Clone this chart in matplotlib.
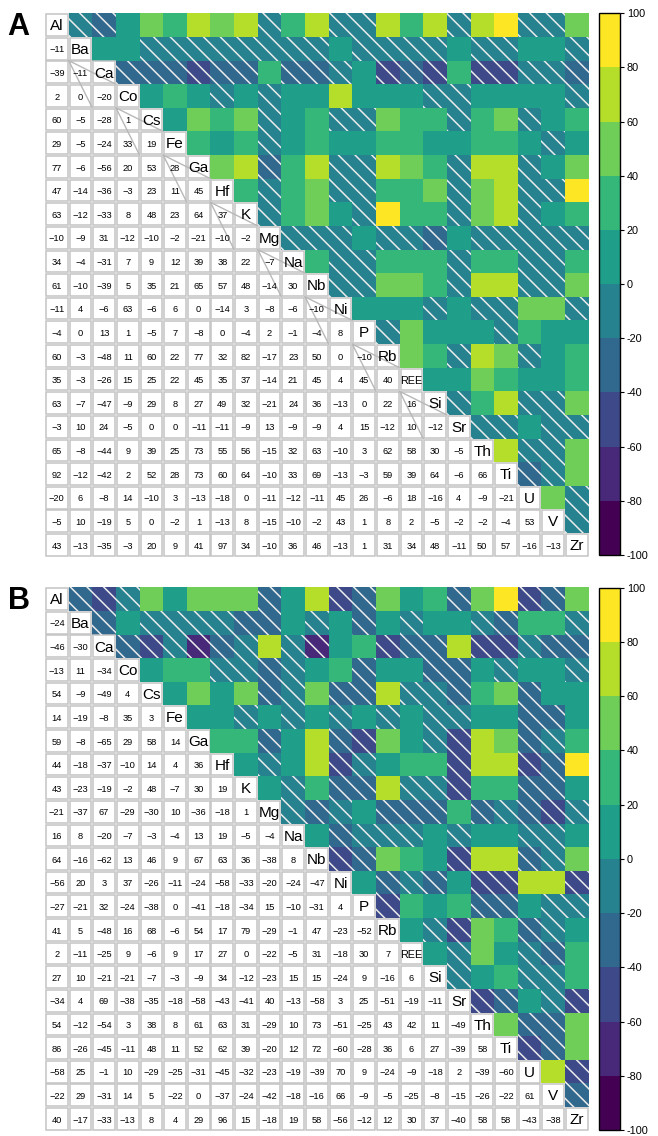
"""two correlation matrices (A and B) with numbers below the diagonal and binned colours above"""

import numpy as np
import matplotlib
matplotlib.use("Agg")
import matplotlib.pyplot as plt
from matplotlib.colors import BoundaryNorm
from matplotlib.patches import Rectangle
from matplotlib.cm import ScalarMappable

plt.rcParams["font.family"] = ["Liberation Sans", "DejaVu Sans"]

ELEMENTS = ["Al", "Ba", "Ca", "Co", "Cs", "Fe", "Ga", "Hf", "K", "Mg", "Na", "Nb",
            "Ni", "P", "Rb", "REE", "Si", "Sr", "Th", "Ti", "U", "V", "Zr"]

# correlations x100, lower triangle row by row.
# decimals are only there to put a value on the right side of a colour bin edge,
# -0.4 is a "0" that shows up as a (hatched) negative cell
CORR_A = [
    [],
    [-11],
    [-39, -11],
    [2, 0, -20.4],
    [59.6, -5, -28, 1],
    [29, -5, -24, 33, 19],
    [77, -6, -56, 19.6, 53, 28],
    [47, -14, -36, -3, 23, 11, 45],
    [63, -12, -33, 8, 48, 23, 64, 37],
    [-10, -9, 31, -12, -10, -2, -21, -10, -2],
    [34, -4, -31, 7, 9, 12, 39, 38, 22, -7],
    [61, -10, -39, 5, 35, 21, 65, 57, 48, -14, 30],
    [-11, 4, -6, 63, -6, 6, -0.4, -14, 3, -8, -6, -10],
    [-4, -0.4, 13, 1, -5, 7, -8, -0.4, -4, 2, -1, -4, 8],
    [60.4, -3, -48, 11, 59.6, 22, 77, 32, 82, -17, 23, 50, 0, -10],
    [35, -3, -26, 15, 25, 22, 45, 35, 37, -14, 21, 45, 4, 45, 40],
    [63, -7, -47, -9, 29, 8, 27, 49, 32, -21, 24, 36, -13, 0, 22, 16],
    [-3, 10, 24, -5, -0.4, 0, -11, -11, -9, 13, -9, -9, 4, 15, -12, 10, -12],
    [65, -8, -44, 9, 39, 25, 73, 55, 56, -15, 32, 63, -10, 3, 62, 58, 30, -5],
    [92, -12, -42, 2, 52, 28, 73, 60.4, 64, -10, 33, 69, -13, -3, 59, 39, 64, -6, 66],
    [-19.6, 6, -8, 14, -10, 3, -13, -18, -0.4, -11, -12, -11, 45, 26, -6, 18, -16, 4, -9, -21],
    [-5, 10, -19, 5, 0, -2, 1, -13, 8, -15, -10, -2, 43, 1, 8, 2, -5, -2, -2, -4, 53],
    [43, -13, -35, -3, 20.4, 9, 41, 97, 34, -10, 36, 46, -13, 1, 31, 34, 48, -11, 50, 57, -16, -13],
]

CORR_B = [
    [],
    [-24],
    [-46, -30],
    [-13, 11, -34],
    [54, -9, -49, 4],
    [14, -19, -8, 35, 3],
    [59, -8, -65, 29, 58, 14],
    [44, -18, -37, -10, 14, 4, 36],
    [43, -23, -19, -2, 48, -7, 30, 19],
    [-21, -37, 67, -29, -30, 10, -36, -18, 1],
    [16, 8, -20, -7, -3, -4, 13, 19, -5, -4],
    [64, -16, -62, 13, 46, 9, 67, 63, 36, -38, 8],
    [-56, 19.6, 3, 37, -26, -11, -24, -58, -33, -20, -24, -47],
    [-27, -21, 32, -24, -38, 0, -41, -18, -34, 15, -10, -31, 4],
    [41, 5, -48, 16, 68, -6, 54, 17, 79, -29, -1, 47, -23, -52],
    [2, -11, -25, 9, -6, 9, 17, 27, -0.4, -22, -5, 31, -18, 30, 7],
    [27, 10, -21, -21, -7, -3, -9, 34, -12, -23, 15, 15, -24, 9, -16, 6],
    [-34, 4, 69, -38, -35, -18, -58, -43, -41, 39.6, -13, -58, 3, 25, -51, -19, -11],
    [54, -12, -54, 3, 38, 8, 61, 63, 31, -29, 10, 73, -51, -25, 43, 42, 11, -49],
    [86, -26, -45, -11, 48, 11, 52, 62, 39, -20, 12, 72, -59.6, -28, 36, 6, 27, -39, 58],
    [-58, 25, -1, 10, -29, -25, -31, -45, -32, -23, -19, -39, 70, 9, -24, -9, -18, 2, -39, -59.6],
    [-22, 29, -31, 14, 5, -22, -0.4, -37, -24, -42, -18, -16, 66, -9, -5, -25, -8, -15, -26, -22, 61],
    [40, -17, -33, -13, 8, 4, 29, 96, 15, -18, 19, 58, -56, -12, 12, 30, 37, -40.4, 58, 58, -43, -38],
]

# upper-triangle cells whose colour does not follow the printed number
UPPER_OVERRIDE_A = {("Ba", "Ca"): 11}
UPPER_OVERRIDE_B = {}

BIN_EDGES = np.arange(-100, 101, 20)
CMAP = plt.get_cmap("viridis", len(BIN_EDGES) - 1)
NORM = BoundaryNorm(BIN_EDGES, CMAP.N)

GRID_GREY = "#c4c4c4"
HATCH_WHITE = "#ececec"
plt.rcParams["hatch.linewidth"] = 1.1


def full_matrix(rows):
    n = len(ELEMENTS)
    m = np.zeros((n, n))
    for i, row in enumerate(rows):
        for j, v in enumerate(row):
            m[i, j] = v
            m[j, i] = v
    return m


def fmt(v):
    return str(int(round(v))).replace("-", "\u2212")


def draw_panel(ax, rows, overrides, links=False):
    n = len(ELEMENTS)
    m = full_matrix(rows)
    for (a, b), v in overrides.items():
        i, j = ELEMENTS.index(a), ELEMENTS.index(b)
        m[min(i, j), max(i, j)] = v

    inset = 0.04
    for i in range(n):
        for j in range(n):
            if j > i:
                v = m[i, j]
                ax.add_patch(Rectangle((j, i), 1, 1, facecolor=CMAP(NORM(v)),
                                       edgecolor="none", lw=0, zorder=1))
                if v < 0:
                    ax.add_patch(Rectangle((j, i), 1, 1, fill=False, hatch="\\\\",
                                           edgecolor=HATCH_WHITE, lw=0, zorder=2))
            else:
                ax.add_patch(Rectangle((j + inset, i + inset), 1 - 2 * inset, 1 - 2 * inset,
                                       facecolor="white", edgecolor=GRID_GREY,
                                       lw=1.1, zorder=1))
                if i == j:
                    name = ELEMENTS[i]
                    ax.text(j + 0.5, i + 0.55, name, ha="center", va="center",
                            fontsize=11 if len(name) < 3 else 7.8, zorder=4)
                else:
                    ax.text(j + 0.5, i + 0.55, fmt(m[i, j]), ha="center", va="center",
                            fontsize=6.7, zorder=4)

    if links:
        # leftover connector segments along the diagonal of panel A
        for k in range(1, 16, 2):
            ax.plot([k, k + 1], [k + 1, k + 3], color="#b8b8b8", lw=1.0, zorder=3)
            ax.plot([k, k + 2], [k + 1, k + 2], color="#b8b8b8", lw=1.0, zorder=3)

    ax.set_xlim(0, n)
    ax.set_ylim(n, 0)
    ax.axis("off")


def draw_colorbar(cax):
    sm = ScalarMappable(norm=NORM, cmap=CMAP)
    cb = plt.colorbar(sm, cax=cax, ticks=BIN_EDGES, spacing="proportional")
    cb.ax.set_yticklabels([str(t) for t in BIN_EDGES])
    cb.outline.set_edgecolor("black")
    cb.outline.set_linewidth(1.0)
    cb.ax.tick_params(length=3, width=0.8, pad=2, labelsize=7.8, direction="out")


def main():
    W, H = 658, 1136
    fig = plt.figure(figsize=(W / 100, H / 100), dpi=100)

    ax_a = fig.add_axes([45 / W, 1 - 556.7 / H, 543.7 / W, 543.4 / H])
    ax_b = fig.add_axes([45 / W, 1 - 1130.7 / H, 543.7 / W, 543.4 / H])
    cax_a = fig.add_axes([599 / W, 1 - 555 / H, 21 / W, 541.7 / H])
    cax_b = fig.add_axes([599 / W, 1 - 1130 / H, 21 / W, 542.3 / H])

    draw_panel(ax_a, CORR_A, UPPER_OVERRIDE_A, links=True)
    draw_panel(ax_b, CORR_B, UPPER_OVERRIDE_B)
    draw_colorbar(cax_a)
    draw_colorbar(cax_b)

    fig.text(7 / W, 1 - 27 / H, "A", fontsize=22, fontweight="bold", va="center", ha="left")
    fig.text(8 / W, 1 - 601 / H, "B", fontsize=22, fontweight="bold", va="center", ha="left")

    fig.savefig("out.png", dpi=100)
    plt.close(fig)


if __name__ == "__main__":
    main()
